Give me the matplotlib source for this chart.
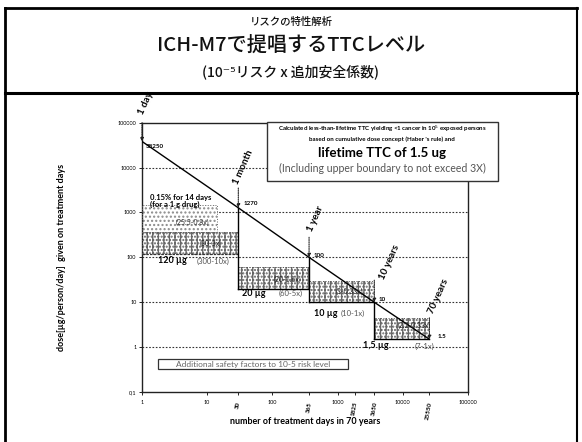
import matplotlib
matplotlib.use("Agg")
import matplotlib.pyplot as plt
from matplotlib.patches import Rectangle
from matplotlib.lines import Line2D

plt.rcParams['font.family'] = ['Lato', 'DejaVu Sans']
plt.rcParams['hatch.linewidth'] = 1.0

# ---- data ----
mark_days = [1, 30, 365, 3650, 25550]
mark_doses = [38250, 1270, 100, 10, 1.5]
mark_names = ["1 day", "1 month", "1 year", "10 years", "70 years"]
mark_value_labels = ["38250", "1270", "100", "10", "1.5"]

step_start = [1, 30, 365, 3650]
step_end = [30, 365, 3650, 25550]
step_dose = [120, 20, 10, 1.5]
step_upper = [360, 60, 30, 4.5]
step_labels = ["120 µg", "20 µg", "10 µg", "1,5 µg"]
step_factors = ["(300-10x)", "(60-5x)", "(10-1x)", "(7-1x)"]
box_factors = ["(30-3x)", "(20-1.6x)", "(3-0.33x)", "(2.2-0.33x)"]

short_term_days = 14
short_term_dose = 1500
short_term_factor = "(25.5-0.8x)"

x_ticks = [1, 10, 30, 100, 365, 1000, 1825, 3650, 10000, 25550, 100000]
x_ticklabels = ["1", "10", "30", "100", "365", "1000", "1825", "3650", "10000", "25550", "100000"]
x_rotated = ["30", "365", "1825", "3650", "25550"]
y_ticks = [0.1, 1, 10, 100, 1000, 10000, 100000]
y_ticklabels = ["0,1", "1", "10", "100", "1000", "10000", "100000"]

W, H = 582, 442
fig = plt.figure(figsize=(W / 100, H / 100), dpi=100)


def fx(px):
    return px / W


def fy(py):
    return 1 - py / H


# ---- slide frame and title ----
for (x0, y0, x1, y1, lw) in [(5, 8, 577, 8, 2.0), (5, 8, 5, 442, 2.0),
                             (577, 8, 577, 442, 1.5), (5, 93, 577, 93, 2.2)]:
    fig.add_artist(Line2D([fx(x0), fx(x1)], [fy(y0), fy(y1)], color="black", lw=lw, zorder=10))

cjk = ['Noto Sans CJK JP', 'DejaVu Sans']
fig.text(0.5, fy(22), "リスクの特性解析", family=cjk, fontsize=7.5, fontweight="medium",
         ha="center", va="center", color="#111111")
fig.text(0.5, fy(46), "ICH-M7で提唱するTTCレベル", family=cjk, fontsize=14.5,
         fontweight="medium", ha="center", va="center", color="#111111")
fig.text(0.5, fy(72), "(10⁻⁵リスク x 追加安全係数)", family=cjk, fontsize=10,
         fontweight="medium", ha="center", va="center", color="#111111")

# ---- axes ----
ax = fig.add_axes([fx(142), fy(392), fx(468 - 142), (392 - 122.7) / H])
ax.set_xscale("log")
ax.set_yscale("log")
ax.set_xlim(1, 100000)
ax.set_ylim(0.1, 100000)
for s in ax.spines.values():
    s.set_linewidth(1.0)
    s.set_color("#222222")

for g in [1, 10, 100, 1000, 10000]:
    ax.axhline(g, color="#333333", lw=0.8, ls=(0, (1.5, 1.5)), zorder=1)

# hatched ranges (dose up to 3x the step value)
hatch_col = "#666666"
for i in range(4):
    r = Rectangle((step_start[i], step_dose[i]), step_end[i] - step_start[i],
                  step_upper[i] - step_dose[i], facecolor="white",
                  edgecolor=hatch_col, hatch="|||.....", lw=0, zorder=2)
    ax.add_patch(r)
    ax.add_patch(Rectangle((step_start[i], step_dose[i]), step_end[i] - step_start[i],
                           step_upper[i] - step_dose[i], facecolor="none",
                           edgecolor="#555555", lw=0.7, ls=":", zorder=3))

# short-term (0.15 % of a 1 g drug for 14 days) range
ax.add_patch(Rectangle((1, step_upper[0]), short_term_days - 1, short_term_dose - step_upper[0],
                       facecolor="white", edgecolor="#8a8a8a", hatch="....", lw=0, zorder=2))
ax.add_patch(Rectangle((1, step_upper[0]), short_term_days - 1, short_term_dose - step_upper[0],
                       facecolor="none", edgecolor="#666666", lw=0.7, ls=":", zorder=3))

# cumulative-dose line
ax.plot(mark_days, mark_doses, color="black", lw=1.0, zorder=5)

# step function of the TTC levels
ax.plot([step_start[0], step_end[0]], [step_dose[0], step_dose[0]], color="#333333",
        lw=0.9, ls=(0, (2, 1)), zorder=5)
for i in range(1, 4):
    ax.plot([mark_days[i], mark_days[i]], [mark_doses[i], step_dose[i]], color="black",
            lw=1.0, zorder=5)
    ax.plot([step_start[i], step_end[i]], [step_dose[i], step_dose[i]], color="black",
            lw=1.0, zorder=5)

# dotted time markers with arrows
arrow_tops = [100000, 3500, 280, 31, 4.5]
for d, top, v in zip(mark_days, arrow_tops, mark_doses):
    ax.annotate("", xy=(d, v), xytext=(d, top),
                arrowprops=dict(arrowstyle="-|>", lw=0.8, ls=(0, (1, 1)), color="#222222",
                                mutation_scale=5, shrinkA=0, shrinkB=0),
                zorder=6, annotation_clip=False)

# time labels
name_pos = [(1.16, 275000), (35, 10300), (463, 716), (6150, 79), (34900, 13.8)]
for (x, y), t in zip(name_pos, mark_names):
    ax.text(x, y, t, rotation=66, fontsize=7, fontweight="bold", ha="center",
            va="center", clip_on=False, zorder=7)

# value labels at the points
value_offsets = [(3, -4), (4, 3), (3, 1), (3, 2), (6, 2)]
for d, v, t, off in zip(mark_days, mark_doses, mark_value_labels, value_offsets):
    ax.annotate(t, xy=(d, v), xytext=off, textcoords="offset points", fontsize=4.5,
                fontweight="bold", ha="left", va="center", zorder=7)

# step level labels
lvl_pos = [(2.9, 83), (52, 16), (658, 5.75), (3890, 1.06)]
fac_pos = [(12.5, 83), (190, 16), (1727, 5.75), (21400, 1.06)]
for i in range(4):
    ax.text(*lvl_pos[i], step_labels[i], fontsize=6.5, fontweight="bold",
            ha="center", va="center", zorder=7)
    ax.text(*fac_pos[i], step_factors[i], fontsize=5.5, color="#555555",
            ha="center", va="center", zorder=7)

box_pos = [(11.3, 208), (172, 33), (1500, 17.8), (14900, 3.1)]
for (x, y), t in zip(box_pos, box_factors):
    ax.text(x, y, t, fontsize=5, color="#222222", ha="center", va="center", zorder=7)

ax.text(1.34, 2125, "0.15% for 14 days", fontsize=5.5, fontweight="bold",
        ha="left", va="center", zorder=7)
ax.text(1.34, 1490, "(for a 1 g drug)", fontsize=5.5, fontweight="bold",
        ha="left", va="center", zorder=7)
ax.text(5.9, 590, short_term_factor, fontsize=5, color="#333333",
        ha="center", va="center", zorder=7)

# ticks
ax.set_xticks(x_ticks)
ax.set_xticklabels([])
ax.xaxis.set_minor_locator(matplotlib.ticker.NullLocator())
ax.yaxis.set_minor_locator(matplotlib.ticker.NullLocator())
ax.set_yticks(y_ticks)
ax.set_yticklabels(y_ticklabels, fontsize=4)
ax.tick_params(axis="both", length=2, width=0.6, pad=2)
for x, t in zip(x_ticks, x_ticklabels):
    if t in x_rotated:
        ax.text(x, -0.035, t, transform=ax.get_xaxis_transform(), rotation=80,
                fontsize=4.5, fontweight="bold", ha="center", va="top")
    else:
        ax.text(x, -0.03, t, transform=ax.get_xaxis_transform(), fontsize=4,
                ha="center", va="top")

fig.text(fx(305), fy(421), "number of treatment days in 70 years", fontsize=6.5,
         fontweight="bold", ha="center", va="center")
fig.text(fx(62), fy(257), "dose[µg/person/day]  given on treatment days", fontsize=6.5,
         fontweight="bold", rotation=90, ha="center", va="center")

# explanatory boxes
fig.add_artist(Rectangle((fx(267), fy(181)), fx(498 - 267), (181 - 122) / H,
                         facecolor="white", edgecolor="#333333", lw=1.0, zorder=8))
fig.text(fx(382), fy(129), "Calculated less-than-lifetime TTC yielding <1 cancer in 10$^5$ exposed persons",
         fontsize=4.4, fontweight="bold", ha="center", va="center", zorder=9)
fig.text(fx(382), fy(139), "based on cumulative dose concept (Haber 's rule) and",
         fontsize=4.4, fontweight="bold", ha="center", va="center", zorder=9)
fig.text(fx(382), fy(153), "lifetime TTC of 1.5 ug", fontsize=9.5, fontweight="bold",
         ha="center", va="center", zorder=9)
fig.text(fx(382), fy(168), "(Including upper boundary to not exceed 3X)", fontsize=7.6,
         color="#555555", ha="center", va="center", zorder=9)

fig.add_artist(Rectangle((fx(158), fy(369)), fx(348 - 158), (369 - 359) / H,
                         facecolor="white", edgecolor="#333333", lw=0.9, zorder=8))
fig.text(fx(253), fy(364), "Additional safety factors to 10-5 risk level", fontsize=6,
         color="#666666", ha="center", va="center", zorder=9)

fig.savefig("out.png", dpi=100)
